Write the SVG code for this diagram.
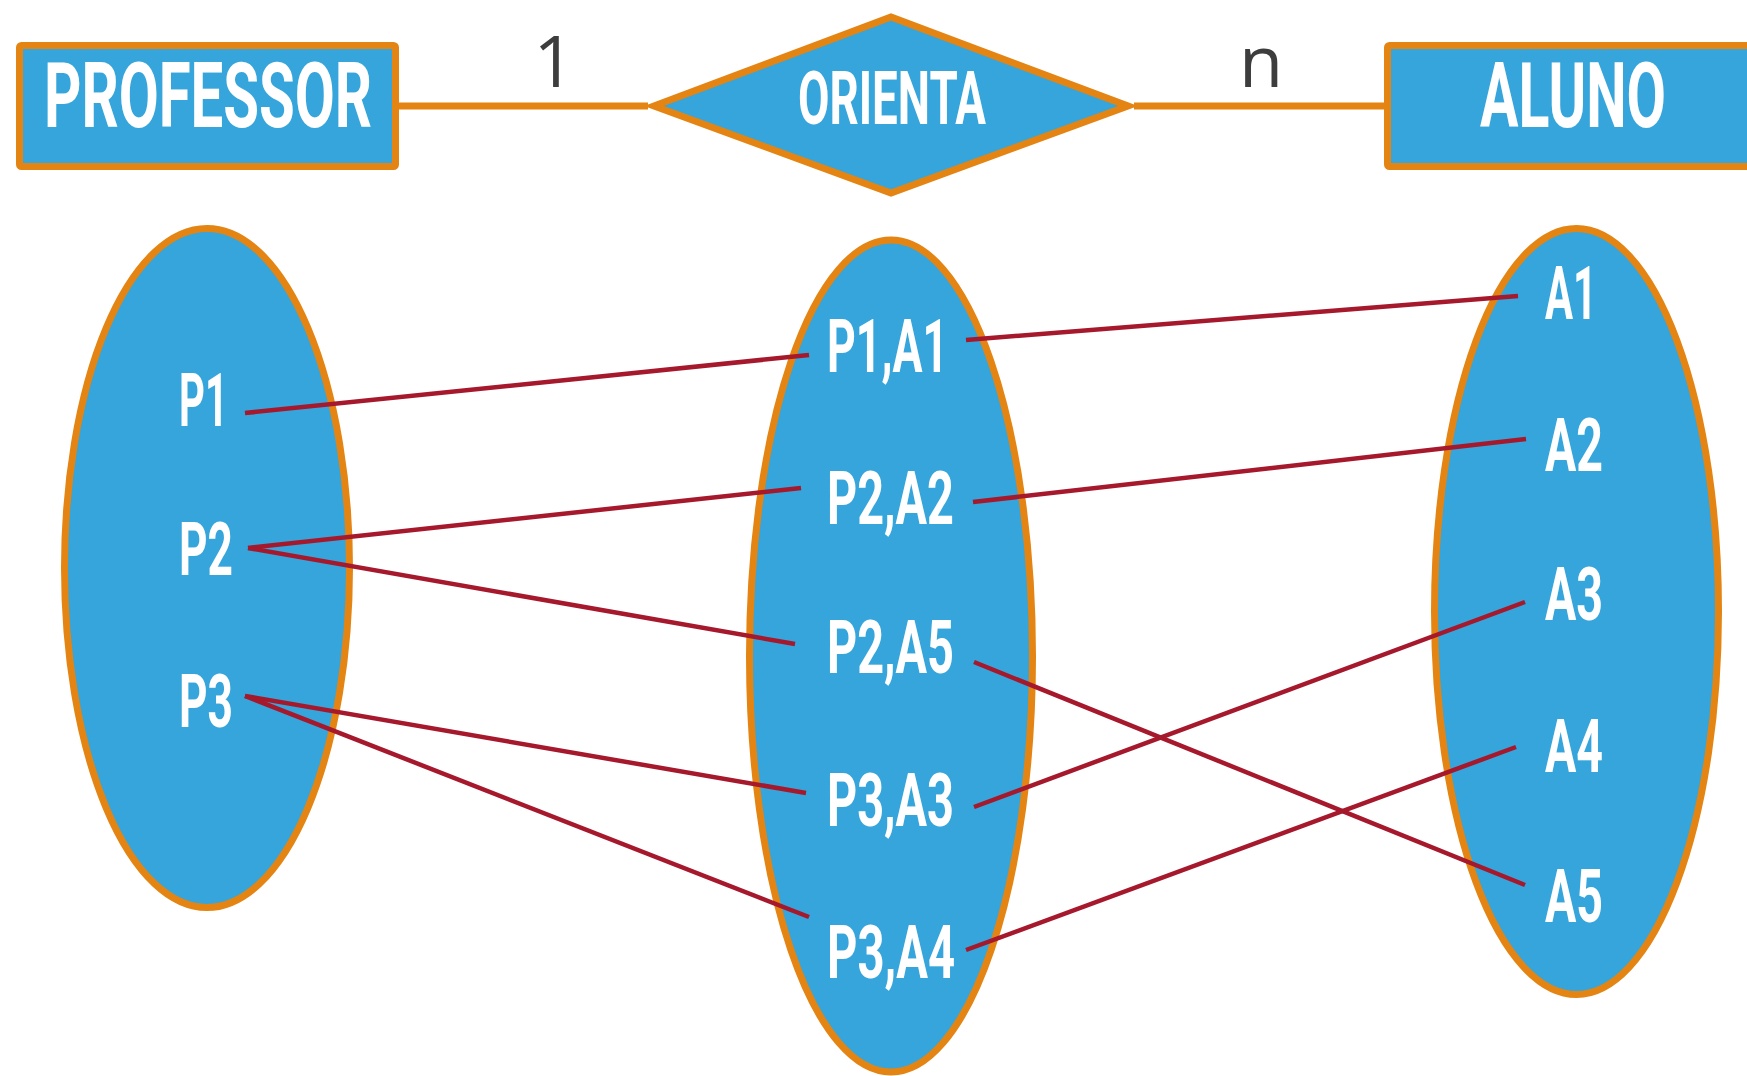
<svg xmlns="http://www.w3.org/2000/svg" width="1747" height="1076" viewBox="0 0 1747 1076">
<style>
.shape{fill:#35a5db;stroke:#e48413;stroke-width:7}
.conn{stroke:#e48413;stroke-width:7;fill:none}
.rel{stroke:#a6182c;stroke-width:4.5;fill:none}
.lbl{font-family:Roboto,"Liberation Sans",sans-serif;font-weight:bold;fill:#ffffff}
.card{font-family:"Open Sans","Liberation Sans",sans-serif;font-size:72px;fill:#3d3d3d;text-anchor:middle}
</style>
<rect width="1747" height="1076" fill="#ffffff"/>
<g id="professor">
<rect class="shape" x="19.5" y="45.5" width="376" height="121" rx="2"/>
<text class="lbl" x="44" y="127" font-size="91" textLength="328" lengthAdjust="spacingAndGlyphs">PROFESSOR</text>
</g>
<g id="orienta">
<polygon class="shape" points="654,106 891,17 1128,106 891,193"/>
<text class="lbl" x="798" y="124" font-size="74" textLength="188" lengthAdjust="spacingAndGlyphs">ORIENTA</text>
</g>
<g id="aluno">
<rect class="shape" x="1387.5" y="45.5" width="370" height="121" rx="2"/>
<text class="lbl" x="1480" y="127" font-size="91" textLength="186" lengthAdjust="spacingAndGlyphs">ALUNO</text>
</g>
<g id="set-professor">
<ellipse class="shape" cx="207" cy="568" rx="142.5" ry="339.5"/>
<text class="lbl" x="179" y="426" font-size="75" textLength="49" lengthAdjust="spacingAndGlyphs">P1</text>
<text class="lbl" x="179" y="575" font-size="75" textLength="54" lengthAdjust="spacingAndGlyphs">P2</text>
<text class="lbl" x="179" y="727" font-size="75" textLength="54" lengthAdjust="spacingAndGlyphs">P3</text>
</g>
<g id="set-orienta">
<ellipse class="shape" cx="891" cy="656" rx="141.5" ry="416"/>
<text class="lbl" x="827" y="372" font-size="75" textLength="121" lengthAdjust="spacingAndGlyphs">P1,A1</text>
<text class="lbl" x="827" y="524" font-size="75" textLength="127" lengthAdjust="spacingAndGlyphs">P2,A2</text>
<text class="lbl" x="827" y="673" font-size="75" textLength="127" lengthAdjust="spacingAndGlyphs">P2,A5</text>
<text class="lbl" x="827" y="826" font-size="75" textLength="127" lengthAdjust="spacingAndGlyphs">P3,A3</text>
<text class="lbl" x="827" y="978" font-size="75" textLength="128" lengthAdjust="spacingAndGlyphs">P3,A4</text>
</g>
<g id="set-aluno">
<ellipse class="shape" cx="1576.5" cy="611.5" rx="142" ry="383"/>
<text class="lbl" x="1545" y="319" font-size="75" textLength="52" lengthAdjust="spacingAndGlyphs">A1</text>
<text class="lbl" x="1545" y="471" font-size="75" textLength="58" lengthAdjust="spacingAndGlyphs">A2</text>
<text class="lbl" x="1545" y="620" font-size="75" textLength="58" lengthAdjust="spacingAndGlyphs">A3</text>
<text class="lbl" x="1545" y="772" font-size="75" textLength="58" lengthAdjust="spacingAndGlyphs">A4</text>
<text class="lbl" x="1545" y="922" font-size="75" textLength="58" lengthAdjust="spacingAndGlyphs">A5</text>
</g>
<g id="connectors">
<line class="conn" x1="399" y1="106" x2="648" y2="106"/>
<line class="conn" x1="1134" y1="106" x2="1386" y2="106"/>
<text class="card" x="554" y="87">1</text>
<text class="card" x="1261" y="87">n</text>
<line class="rel" x1="245" y1="413" x2="809" y2="355"/>
<line class="rel" x1="966" y1="340" x2="1518" y2="296"/>
<line class="rel" x1="248" y1="548" x2="801" y2="488"/>
<line class="rel" x1="248" y1="548" x2="795" y2="644"/>
<line class="rel" x1="973" y1="502" x2="1526" y2="439"/>
<line class="rel" x1="974" y1="662" x2="1525" y2="885"/>
<line class="rel" x1="245" y1="696" x2="806" y2="793"/>
<line class="rel" x1="245" y1="696" x2="809" y2="917"/>
<line class="rel" x1="974" y1="807" x2="1525" y2="602"/>
<line class="rel" x1="966" y1="950" x2="1516" y2="747"/>
</g>
</svg>
